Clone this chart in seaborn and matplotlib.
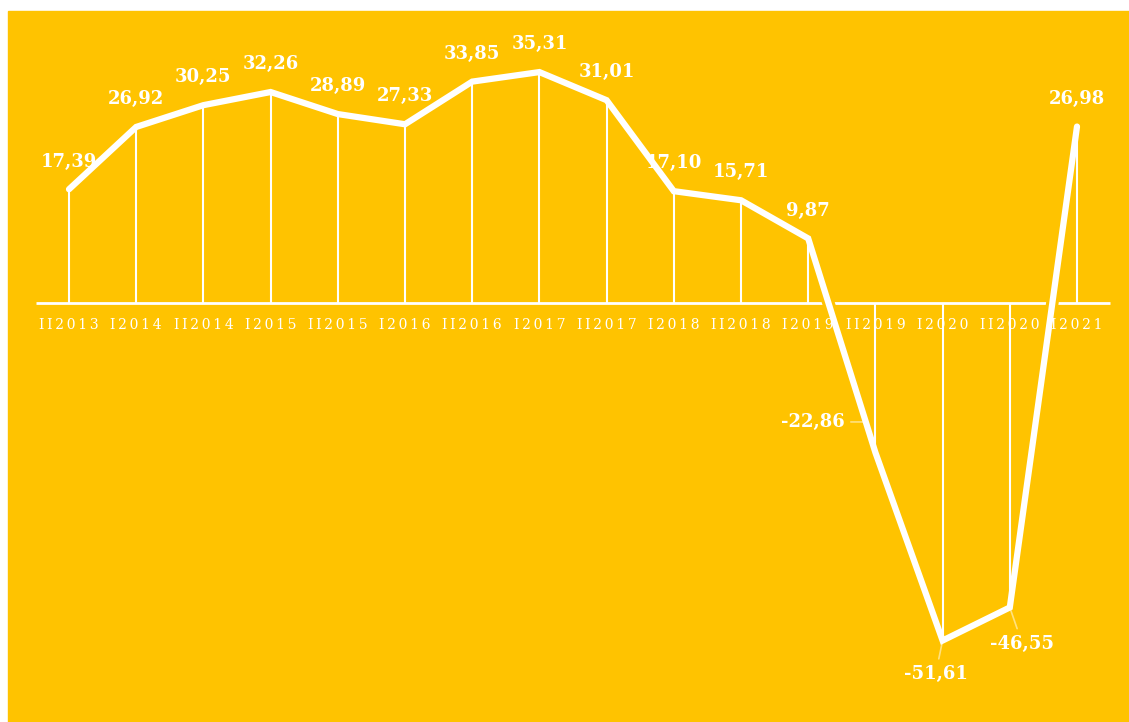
import matplotlib
matplotlib.use("Agg")
import matplotlib.pyplot as plt
from matplotlib.patches import Rectangle
import seaborn as sns
import pandas as pd

# data
periods = ["II2013", "I2014", "II2014", "I2015", "II2015", "I2016", "II2016", "I2017",
           "II2017", "I2018", "II2018", "I2019", "II2019", "I2020", "II2020", "I2021"]
values = [17.39, 26.92, 30.25, 32.26, 28.89, 27.33, 33.85, 35.31,
          31.01, 17.10, 15.71, 9.87, -22.86, -51.61, -46.55, 26.98]

YELLOW = "#FFC300"
WHITE = "white"

sns.set_theme(style="white")
plt.rcParams["font.family"] = ["DejaVu Serif"]

df = pd.DataFrame({"idx": range(len(values)), "value": values, "period": periods})

fig = plt.figure(figsize=(11.29, 7.22), dpi=100)
fig.patch.set_facecolor(WHITE)
fig.patches.append(Rectangle((8 / 1129, 0), 1, (722 - 11) / 722,
                             transform=fig.transFigure, color=YELLOW, zorder=-10))

ax = fig.add_axes([0, 0, 1, 1])
ax.set_facecolor("none")
ax.set_xlim(-69 / 67.2, (1129 - 69) / 67.2)
ax.set_ylim(-(722 - 303) / 6.54, 303 / 6.54)
ax.axis("off")

# zero line
ax.hlines(0, -0.49, 15.49, color=WHITE, lw=2, zorder=2)

# yellow halo under the line (cuts the zero line where they cross)
sns.lineplot(data=df, x="idx", y="value", ax=ax, color=YELLOW, lw=9, zorder=3)

# drop lines
ax.vlines(df["idx"], 0, df["value"], color=WHITE, lw=1.5, zorder=3.5)

# main line
sns.lineplot(data=df, x="idx", y="value", ax=ax, color=WHITE, lw=4.5, zorder=4,
             solid_joinstyle="miter", solid_capstyle="round")

# period labels (letter spaced)
for i, p in enumerate(periods):
    ax.text(i, -3.3, "\u2009".join(p), ha="center", va="center", color=WHITE,
            fontsize=10, zorder=3)

# value labels
for i, v in enumerate(values):
    txt = f"{v:.2f}".replace(".", ",")
    if v >= 0:
        ax.annotate(txt, (i, v), xytext=(0, 20), textcoords="offset points",
                    ha="center", va="center", color=WHITE, fontsize=13,
                    fontweight="bold", zorder=5)

lead = dict(arrowstyle="-", color=WHITE, alpha=0.5, lw=1.2, shrinkB=0)
ax.annotate("-22,86", (12, -22.86), xytext=(-45, 22), textcoords="offset points",
            ha="center", va="center", color=WHITE, fontsize=13, fontweight="bold",
            arrowprops=dict(lead, connectionstyle="angle,angleA=0,angleB=108,rad=0"), zorder=5)
ax.annotate("-51,61", (13, -51.61), xytext=(-5, -24), textcoords="offset points",
            ha="center", va="center", color=WHITE, fontsize=13, fontweight="bold",
            arrowprops=lead, zorder=5)
ax.annotate("-46,55", (14, -46.55), xytext=(9, -26), textcoords="offset points",
            ha="center", va="center", color=WHITE, fontsize=13, fontweight="bold",
            arrowprops=lead, zorder=5)

fig.savefig("out.png", dpi=100, facecolor=fig.get_facecolor())
